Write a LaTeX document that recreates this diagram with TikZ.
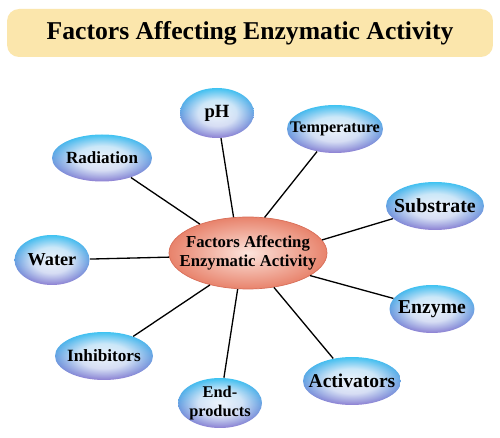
\documentclass[tikz,border=0pt]{standalone}
\usepackage{fontspec}
\setmainfont{Liberation Serif}
\usetikzlibrary{shapes.geometric,fadings}
\definecolor{titlefill}{HTML}{FBE6AC}
\definecolor{blueTop}{HTML}{3EC3F2}
\definecolor{blueBot}{HTML}{8C7ED2}
\definecolor{salIn}{HTML}{FCE4DC}
\definecolor{salOut}{HTML}{E8836C}
\definecolor{salLine}{HTML}{D86E58}
\pgfdeclareradialshading{softshade}{\pgfpointorigin}{color(0bp)=(pgftransparent!12); color(13bp)=(pgftransparent!30); color(25bp)=(pgftransparent!100); color(50bp)=(pgftransparent!100)}
\pgfdeclarefading{softcenter}{\pgfuseshading{softshade}}
\newcommand{\fs}[1]{\fontsize{#1}{#1}\selectfont\bfseries}
\begin{document}
\begin{tikzpicture}[x=0.02cm, y=-0.02cm,
  factor/.style={ellipse, inner sep=0pt, top color=blueTop, bottom color=blueBot,
    postaction={fill=white, path fading=softcenter}},
  hub/.style={ellipse, inner sep=0pt, shading=radial, inner color=salIn, outer color=salOut,
    draw=salLine, line width=0.4pt},
  lbl/.style={inner sep=0pt, align=center},
  titlebox/.style={rounded corners=0.24cm, fill=titlefill, inner sep=0pt},
  link/.style={draw=black, line width=0.75pt}]
\useasboundingbox (0,0) rectangle (500,438);
\fill[white] (0,0) rectangle (500,438);

\node[titlebox, minimum width=9.72cm, minimum height=0.96cm] (title) at (250,33)
  {\fs{14.6}Factors Affecting Enzymatic Activity};

\node[hub, minimum width=3.16cm, minimum height=1.44cm,
  label={[lbl, font=\fontsize{9.5}{11.3}\selectfont\bfseries]center:Factors Affecting\\Enzymatic Activity}] (c) at (248,253) {};

\node[factor, minimum width=1.48cm, minimum height=1.00cm,
  label={[lbl, font=\fs{10.6}]center:pH}] (ph) at (217,113) {};
\node[factor, minimum width=1.92cm, minimum height=0.96cm,
  label={[lbl, font=\fs{9.2}]center:Temperature}] (temp) at (335,129) {};
\node[factor, minimum width=2.00cm, minimum height=0.94cm,
  label={[lbl, font=\fs{9.7}]center:Radiation}] (rad) at (102,158) {};
\node[factor, minimum width=1.96cm, minimum height=0.96cm,
  label={[lbl, font=\fs{11.3}]center:Substrate}] (sub) at (435,206) {};
\node[factor, minimum width=1.50cm, minimum height=1.00cm,
  label={[lbl, font=\fs{10.4}]center:Water}] (water) at (52,260) {};
\node[factor, minimum width=1.70cm, minimum height=0.96cm,
  label={[lbl, font=\fs{11.2}]center:Enzyme}] (enz) at (432,309) {};
\node[factor, minimum width=1.96cm, minimum height=0.96cm,
  label={[lbl, font=\fs{9.8}]center:Inhibitors}] (inh) at (104,356) {};
\node[factor, minimum width=1.96cm, minimum height=0.96cm,
  label={[lbl, font=\fs{11.1}]center:Activators}] (act) at (352,381) {};
\node[factor, minimum width=1.68cm, minimum height=1.00cm,
  label={[lbl, font=\fontsize{9.3}{10.5}\selectfont\bfseries]center:End-\\products}] (end) at (220,403) {};

\draw[link] (rad) -- (c.149);
\draw[link] (ph) -- (c.112);
\draw[link] (temp) -- (c.65);
\draw[link] (sub) -- (c.10);
\draw[link] (water) -- (c.183);
\draw[link] (enz) -- (c.-20);
\draw[link] (inh) -- (c.-140);
\draw[link] (act) -- (c.-53);
\draw[link] (end) -- (c.-106);
\end{tikzpicture}
\end{document}
